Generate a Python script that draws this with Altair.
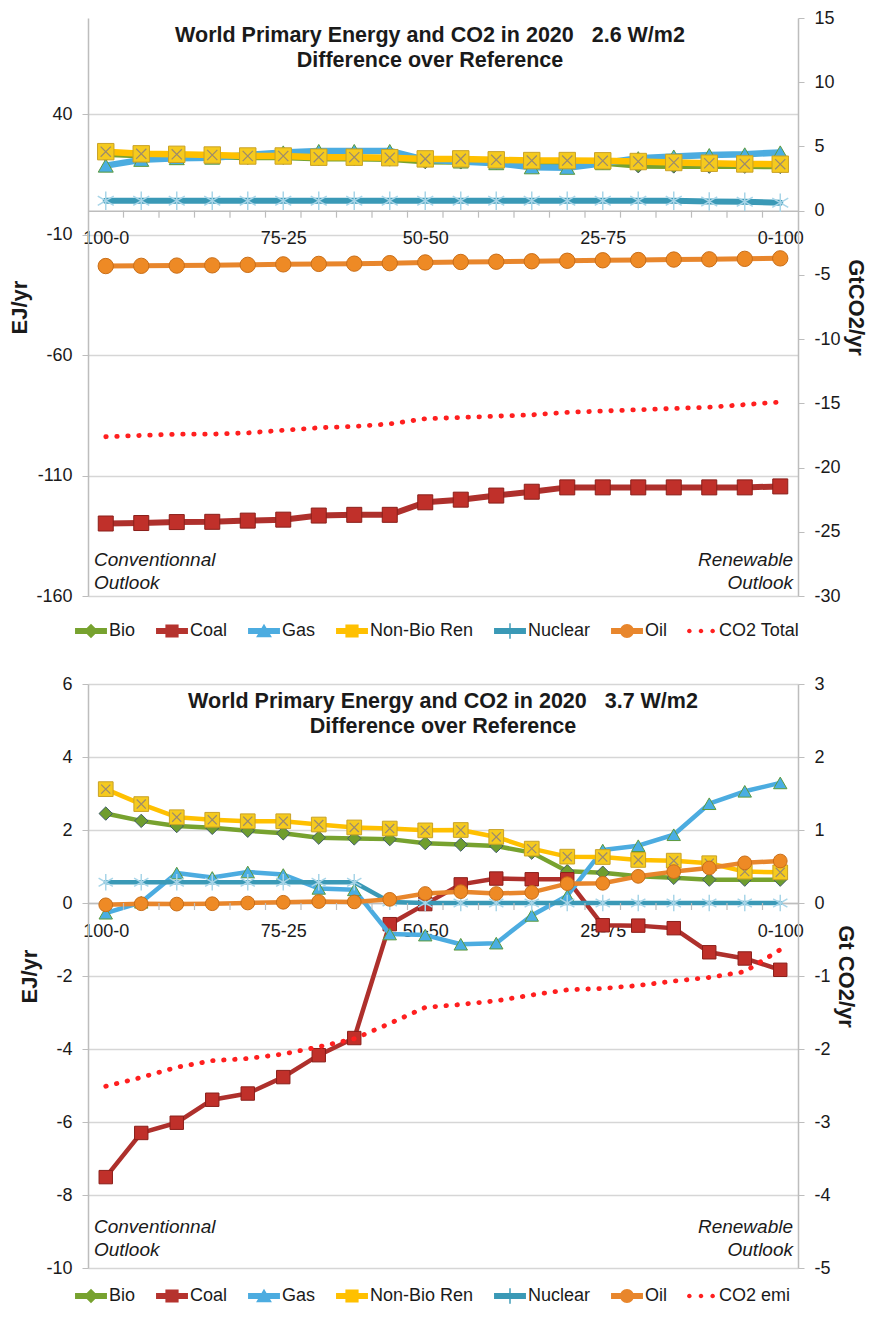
import altair as alt
import pandas as pd

# ---------------- data ----------------
scenario_index = list(range(20))
tick_values = [0, 5, 9, 14, 19]
tick_labels = ["100-0", "75-25", "50-50", "25-75", "0-100"]
tick_between = [i + 0.5 for i in range(19)]

series_names = ["Bio", "Coal", "Gas", "Non-Bio Ren", "Nuclear", "Oil"]

# 2.6 W/m2 panel (EJ/yr, CO2 in GtCO2/yr)
bio_26 = [23.6, 23.0, 22.8, 22.6, 22.3, 22.3, 21.8, 21.8, 21.6, 20.5,
          20.4, 20.2, 20.0, 20.0, 20.0, 18.8, 18.7, 18.6, 18.6, 18.5]
coal_26 = [-129.9, -129.7, -129.3, -129.2, -128.7, -128.3, -126.6, -126.3, -126.3, -121.1,
           -120.0, -118.3, -116.7, -114.9, -114.9, -114.9, -114.9, -114.9, -114.9, -114.5]
gas_26 = [18.7, 21.1, 21.8, 22.0, 23.1, 24.2, 24.8, 24.8, 24.8, 21.1,
          20.4, 19.7, 18.0, 17.8, 19.7, 21.8, 22.5, 23.1, 23.4, 24.2]
nbr_26 = [24.5, 23.6, 23.4, 23.1, 22.7, 22.7, 22.2, 22.2, 22.0, 21.5,
          21.5, 21.1, 20.8, 20.8, 20.7, 20.4, 20.0, 19.7, 19.4, 19.3]
nuc_26 = [4.1, 4.1, 4.1, 4.1, 4.1, 4.1, 4.1, 4.1, 4.1, 4.1,
          4.1, 4.1, 4.1, 4.1, 4.1, 4.1, 4.1, 3.8, 3.7, 3.3]
oil_26 = [-23.0, -22.9, -22.8, -22.7, -22.5, -22.3, -22.1, -22.0, -21.8, -21.5,
          -21.3, -21.2, -21.0, -20.8, -20.6, -20.5, -20.3, -20.2, -20.0, -19.8]
co2_26 = [-17.6, -17.5, -17.4, -17.4, -17.3, -17.1, -16.9, -16.8, -16.6, -16.2,
          -16.1, -16.0, -15.9, -15.7, -15.6, -15.5, -15.4, -15.3, -15.1, -14.9]

# 3.7 W/m2 panel
bio_37 = [2.45, 2.25, 2.11, 2.06, 1.98, 1.91, 1.79, 1.77, 1.75, 1.64,
          1.60, 1.56, 1.38, 0.87, 0.83, 0.73, 0.69, 0.64, 0.64, 0.64]
coal_37 = [-7.51, -6.30, -6.02, -5.39, -5.22, -4.77, -4.17, -3.70, -0.58, -0.03,
           0.51, 0.67, 0.65, 0.65, -0.61, -0.62, -0.69, -1.35, -1.52, -1.83]
gas_37 = [-0.28, 0.02, 0.82, 0.70, 0.85, 0.78, 0.40, 0.36, -0.85, -0.88,
          -1.13, -1.10, -0.34, 0.20, 1.45, 1.57, 1.87, 2.72, 3.06, 3.29]
nbr_37 = [3.12, 2.71, 2.35, 2.28, 2.24, 2.24, 2.15, 2.07, 2.04, 1.99,
          2.00, 1.81, 1.49, 1.27, 1.26, 1.18, 1.16, 1.09, 0.86, 0.84]
nuc_37 = [0.57, 0.57, 0.57, 0.57, 0.57, 0.57, 0.57, 0.57, 0.03, 0.0,
          0.0, 0.0, 0.0, 0.0, 0.0, 0.0, 0.0, 0.0, 0.0, 0.0]
oil_37 = [-0.05, -0.02, -0.03, -0.02, 0.0, 0.02, 0.04, 0.03, 0.10, 0.26,
          0.31, 0.26, 0.29, 0.53, 0.54, 0.73, 0.86, 0.96, 1.10, 1.15]
co2_37 = [-2.51, -2.39, -2.25, -2.16, -2.13, -2.07, -1.97, -1.86, -1.65, -1.43,
          -1.39, -1.34, -1.26, -1.19, -1.17, -1.13, -1.07, -1.02, -0.94, -0.64]

left_note = "Conventionnal\nOutlook"
right_note = "Renewable\nOutlook"

# ---------------- style ----------------
FONT = "Liberation Sans"
TEXT = "#1a1a1a"
GRID = "#D6D6D6"
AXC = "#BDBDBD"
CO2_COLOR = "#FF1F1F"

STYLE = {
    "Bio": dict(line="#77A22F", shape="diamond", fill="#6E9D2E", stroke="#3F5C6A", k=1.0),
    "Coal": dict(line="#AE302C", shape="square", fill="#C0302A", stroke="#8A1F1A", k=1.0),
    "Gas": dict(line="#4CACE0", shape="triangle-up", fill="#4AAEE3", stroke="#5C9A3C", k=1.0),
    "Non-Bio Ren": dict(line="#FFC000", shape="square", fill="#F5CA1E", stroke="#C9A227", k=1.2),
    "Nuclear": dict(line="#3A99B6", shape=None, fill=None, stroke="#A8D5E8", k=1.5),
    "Oil": dict(line="#E8862C", shape="circle", fill="#EE8A25", stroke="#C96E18", k=1.05),
}
X_PATH = "M-0.62,-0.62L0.62,0.62M0.62,-0.62L-0.62,0.62"
STAR_PATH = "M0,-1L0,1M-0.87,-0.5L0.87,0.5M0.87,-0.5L-0.87,0.5"

# legend symbols: 24px layout box (12px per unit), drawn 32px wide
LINE = "M-1.33,-0.24H1.33V0.24H-1.33Z"
LEG_PATHS = [
    LINE + "M0,-0.6L0.6,0L0,0.6L-0.6,0Z",
    LINE + "M-0.55,-0.55H0.55V0.55H-0.55Z",
    LINE + "M0,-0.6L0.66,0.52H-0.66Z",
    LINE + "M-0.55,-0.55H0.55V0.55H-0.55Z",
    LINE + "M-0.06,-0.65H0.06V0.65H-0.06Z",
    LINE + "M-0.58,0A0.58,0.58 0 1,1 0.58,0A0.58,0.58 0 1,1 -0.58,0Z",
    "M-1.16,0A0.19,0.19 0 1,1 -0.78,0A0.19,0.19 0 1,1 -1.16,0Z"
    "M-0.19,0A0.19,0.19 0 1,1 0.19,0A0.19,0.19 0 1,1 -0.19,0Z"
    "M0.78,0A0.19,0.19 0 1,1 1.16,0A0.19,0.19 0 1,1 0.78,0Z",
]
LEG_COLORS = ["#77A22F", "#B5332E", "#4CACE0", "#FFC000", "#3A99B6", "#E8862C", CO2_COLOR]

PLOT_W = 710
NUM_LABEL = "'' + datum.value"


def panel(values, co2, co2_label, title_lines, title_dx, title_offset, ydom, yvals, rdom,
          rvals, rtitle, H, lw, msize, legend_gap, note_dy):
    xscale = alt.Scale(domain=[-0.5, 19.5], nice=False, zero=False)
    zero_from_top = H * ydom[1] / (ydom[1] - ydom[0])
    xoff = -(H - zero_from_top)
    label_expr = ("[" + ",".join(f"'{t}'" for t in tick_labels) + "][indexof(["
                  + ",".join(str(v) for v in tick_values) + "], datum.value)]")
    xaxis = alt.Axis(values=tick_values, labelExpr=label_expr, title=None, ticks=False,
                     grid=False, domain=True, domainColor=AXC, domainWidth=1.5,
                     labelFontSize=18, labelPadding=19, labelFlush=False, offset=xoff,
                     labelColor=TEXT, labelFont=FONT)
    yscale = alt.Scale(domain=ydom, nice=False, zero=False)
    yaxis = alt.Axis(values=yvals, labelExpr=NUM_LABEL, title="EJ/yr", grid=True,
                     gridColor=GRID, gridWidth=1.5, domainColor=AXC, domainWidth=1.5,
                     tickColor=AXC, tickSize=6, labelPadding=10, titlePadding=4,
                     labelFontSize=18, labelColor=TEXT, labelFont=FONT, titleFont=FONT,
                     titleFontSize=22, titleFontWeight="bold", titleColor=TEXT)

    def X():
        return alt.X("i:Q", scale=xscale, axis=xaxis)

    def Y():
        return alt.Y("v:Q", scale=yscale, axis=yaxis)

    layers = []
    for name in series_names:
        st = STYLE[name]
        d = pd.DataFrame({"i": scenario_index, "v": values[name]})
        base = alt.Chart(d)
        layers.append(base.mark_line(color=st["line"], strokeWidth=lw[name],
                                     strokeJoin="round", strokeCap="round").encode(x=X(), y=Y()))
        if name == "Nuclear":
            layers.append(base.mark_point(shape=STAR_PATH, filled=False, stroke=st["stroke"],
                                          strokeWidth=1.5, size=msize * st["k"], opacity=1)
                          .encode(x=X(), y=Y()))
        else:
            layers.append(base.mark_point(shape=st["shape"], filled=True, fill=st["fill"],
                                          stroke=st["stroke"], strokeWidth=1,
                                          size=msize * st["k"], opacity=1)
                          .encode(x=X(), y=Y()))
        if name == "Non-Bio Ren":
            layers.append(base.mark_point(shape=X_PATH, filled=False, stroke="#9B8A6E",
                                          strokeWidth=1.2, size=msize * st["k"], opacity=1)
                          .encode(x=X(), y=Y()))

    # minor category ticks hanging below the zero line
    layers.append(alt.Chart(pd.DataFrame({"t": tick_between}))
                  .mark_rule(color=AXC, strokeWidth=1.2, y2Offset=7)
                  .encode(x=alt.X("t:Q", scale=xscale, axis=xaxis),
                          y=alt.YDatum(0, scale=yscale, axis=yaxis),
                          y2=alt.Y2Datum(0)))

    # corner notes
    layers.append(alt.Chart(pd.DataFrame({"t": [left_note]}))
                  .mark_text(align="left", baseline="middle", lineBreak="\n", fontStyle="italic",
                             fontSize=19, lineHeight=23, dx=6, dy=note_dy, font=FONT, color=TEXT)
                  .encode(x=alt.XDatum(-0.5, scale=xscale, axis=xaxis),
                          y=alt.YDatum(ydom[0], scale=yscale, axis=yaxis), text="t:N"))
    layers.append(alt.Chart(pd.DataFrame({"t": [right_note]}))
                  .mark_text(align="right", baseline="middle", lineBreak="\n", fontStyle="italic",
                             fontSize=19, lineHeight=23, dx=-5, dy=note_dy, font=FONT, color=TEXT)
                  .encode(x=alt.XDatum(19.5, scale=xscale, axis=xaxis),
                          y=alt.YDatum(ydom[0], scale=yscale, axis=yaxis), text="t:N"))

    # legend
    leg_names = series_names + [co2_label]
    leg = alt.Legend(orient="none", legendX=-9, legendY=H + legend_gap, direction="horizontal",
                     title=None, labelFontSize=18, labelFont=FONT, labelColor=TEXT,
                     symbolSize=576, symbolStrokeWidth=0, labelOffset=6, columnPadding=20,
                     symbolOpacity=1, padding=0)
    layers.append(alt.Chart(pd.DataFrame({"s": leg_names})).transform_filter("false")
                  .mark_point(filled=True, opacity=1)
                  .encode(color=alt.Color("s:N", scale=alt.Scale(domain=leg_names, range=LEG_COLORS),
                                          legend=leg),
                          shape=alt.Shape("s:N", scale=alt.Scale(domain=leg_names, range=LEG_PATHS),
                                          legend=leg)))

    left = alt.layer(*layers)

    raxis = alt.Axis(orient="right", values=rvals, labelExpr=NUM_LABEL, title=rtitle, grid=False,
                     domainColor=AXC, domainWidth=1.5, tickColor=AXC, tickSize=6,
                     labelPadding=10, titlePadding=3, labelFontSize=18, labelColor=TEXT,
                     labelFont=FONT, titleFont=FONT, titleFontSize=22, titleFontWeight="bold",
                     titleColor=TEXT)
    co2_chart = (alt.Chart(pd.DataFrame({"i": scenario_index, "c": co2}))
                 .mark_line(color=CO2_COLOR, strokeWidth=4.8, strokeDash=[0.5, 10.5],
                            strokeCap="round")
                 .encode(x=X(), y=alt.Y("c:Q", scale=alt.Scale(domain=rdom, nice=False, zero=False),
                                        axis=raxis)))

    return (alt.layer(left, co2_chart)
            .resolve_scale(y="independent")
            .properties(width=PLOT_W, height=H,
                        title=alt.TitleParams(text=title_lines, fontSize=21.5, fontWeight="bold",
                                              font=FONT, lineHeight=25, offset=title_offset,
                                              dx=title_dx, anchor="middle", color=TEXT)))


top = panel(
    {"Bio": bio_26, "Coal": coal_26, "Gas": gas_26, "Non-Bio Ren": nbr_26,
     "Nuclear": nuc_26, "Oil": oil_26},
    co2_26, "CO2 Total",
    ["World Primary Energy and CO2 in 2020\u00a0\u00a0\u00a02.6 W/m2", "Difference over Reference"],
    -13, -62, [-160, 80], [-160, -110, -60, -10, 40], [-30, 15], list(range(-30, 16, 5)),
    "GtCO2/yr", 578,
    {"Bio": 6.5, "Coal": 6, "Gas": 6.5, "Non-Bio Ren": 6.5, "Nuclear": 6, "Oil": 5},
    225, 23, -36)

bottom = panel(
    {"Bio": bio_37, "Coal": coal_37, "Gas": gas_37, "Non-Bio Ren": nbr_37,
     "Nuclear": nuc_37, "Oil": oil_37},
    co2_37, "CO2 emi",
    ["World Primary Energy and CO2 in 2020\u00a0\u00a0\u00a03.7 W/m2", "Difference over Reference"],
    0, -62, [-10, 6], list(range(-10, 7, 2)), [-5, 3], list(range(-5, 4)),
    "Gt CO2/yr", 584,
    {"Bio": 4.5, "Coal": 4.5, "Gas": 4.5, "Non-Bio Ren": 4.5, "Nuclear": 4.5, "Oil": 4.5},
    180, 16, -41)

chart = (alt.vconcat(top, bottom, spacing=35)
         .resolve_scale(color="independent", shape="independent")
         .properties(padding={"left": 0, "top": 1, "right": 2, "bottom": 0})
         .configure(font=FONT)
         .configure_view(stroke=None))

chart.save("out.html", embed_options={"renderer": "svg", "actions": False})
